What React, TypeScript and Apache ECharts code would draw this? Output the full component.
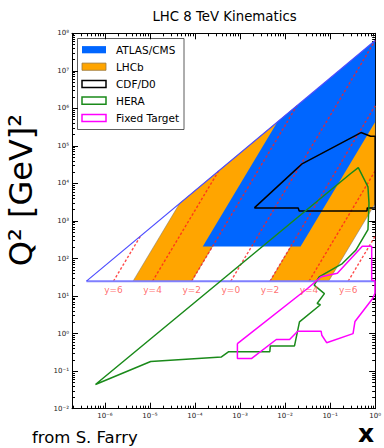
import React, { useEffect, useRef } from 'react';
import * as echarts from 'echarts';

type Pt = [number, number];

// Axis ranges (log10 of x and of Q^2)
const X_LOG_MIN = -6.73;
const X_LOG_MAX = 0;
const Y_LOG_MIN = -2;
const Y_LOG_MAX = 8;

// Tick labels (exponents of 10)
const xTickExponents = [-6, -5, -4, -3, -2, -1, 0];
const yTickExponents = [-2, -1, 0, 1, 2, 3, 4, 5, 6, 7, 8];

// Kinematic limit of the LHC at 8 TeV
const kinematicLimit: Pt[] = [[3.9e-7, 25], [1, 6.4e7]];
const q2Floor: Pt[] = [[3.9e-7, 25], [1, 25]];

// Acceptance regions
const atlasCms: Pt[] = [[1.49e-4, 210], [6.74e-3, 4.31e5], [1, 6.4e7], [1, 4.31e5], [0.0221, 210]];
const lhcbForward: Pt[] = [[4.21e-6, 25], [4.54e-5, 2906], [0.0183, 1.17e6], [8.46e-5, 25]];
const lhcbBackward: Pt[] = [[4.62e-3, 25], [1, 1.17e6], [1, 2903], [0.0928, 25]];

const cdfD0: Pt[] = [
  [2.08e-3, 2230], [0.0183, 2.49e4], [0.0244, 3.39e4], [0.485, 2.27e5], [0.794, 1.81e5],
  [1, 1.8e5], [1, 2230], [0.668, 2230], [0.66, 1855], [0.0206, 1855], [0.0196, 2230], [2.08e-3, 2230],
];

const hera: Pt[] = [
  [6.17e-7, 0.0441], [0.287, 1.84e4], [0.423, 2.65e4], [0.693, 8070], [0.73, 2970], [0.693, 592],
  [0.371, 166], [0.187, 73.6], [0.0571, 32.4], [0.0443, 19.5], [0.0748, 11.6], [0.0515, 6.34],
  [0.061, 5.89], [0.0209, 2.05], [0.0162, 0.47], [4.71e-3, 0.47], [4.59e-3, 0.33], [5.62e-4, 0.33],
  [3.87e-4, 0.239], [1.04e-5, 0.181], [6.17e-7, 0.0441],
];

const fixedTarget: Pt[] = [
  [8.75e-4, 0.544], [0.0315, 15.9], [0.0632, 32.7], [0.145, 40.6], [0.519, 213], [0.838, 213],
  [0.838, 26.4], [0.99, 25.6], [0.99, 11.9], [0.88, 8.6], [0.357, 2.11], [0.323, 1.0],
  [0.0838, 0.573], [0.0655, 0.906], [0.0631, 1.16], [0.0191, 1.16], [0.0126, 0.697],
  [6.39e-3, 0.697], [1.79e-3, 0.217], [8.75e-4, 0.217], [8.75e-4, 0.544],
];

// Rapidity lines
const rapidityLabels = ['y=6', 'y=4', 'y=2', 'y=0', 'y=2', 'y=4', 'y=6'];
const rapidityStart: Pt[] = [[1.55e-6, 25], [1.145e-5, 25], [8.46e-5, 25], [6.25e-4, 25], [4.62e-3, 25], [0.0341, 25], [0.252, 25]];
const rapidityEnd: Pt[] = [[6.14e-6, 393], [3.35e-4, 2.15e4], [0.0183, 1.17e6], [1, 6.4e7], [1, 1.17e6], [1, 2.15e4], [1, 393]];

const legendNames = ['ATLAS/CMS', 'LHCb', 'CDF/D0', 'HERA', 'Fixed Target'];

const FONT = '"DejaVu Sans", "Bitstream Vera Sans", sans-serif';
const BLUE = '#0066ff';
const ORANGE = '#ffa500';
const GREEN = '#1a8a1a';
const MAGENTA = '#ff00ff';

const SUP: Record<string, string> = {
  '-': '⁻', '0': '⁰', '1': '¹', '2': '²', '3': '³', '4': '⁴', '5': '⁵', '6': '⁶', '7': '⁷', '8': '⁸', '9': '⁹',
};
const pow10Label = (v: number) =>
  '10' + String(Math.round(v)).split('').map((c) => SUP[c] ?? c).join('');

const toLog = (p: Pt): [number, number] => [Math.log10(p[0]), Math.log10(p[1])];

function minorTicks(lo: number, hi: number): number[] {
  const out: number[] = [];
  for (let n = Math.floor(lo); n < Math.ceil(hi); n++) {
    for (let k = 2; k <= 9; k++) {
      const v = n + Math.log10(k);
      if (v >= lo && v <= hi) out.push(v);
    }
  }
  return out;
}

function makeAxis(pos: string, min: number, max: number, ticks: number[], len: number, showLine: boolean, labels?: number[], margin = 4) {
  return {
    type: 'value',
    position: pos,
    min,
    max,
    axisLine: { show: showLine, onZero: false, lineStyle: { color: '#000', width: 1 } },
    axisTick: { show: true, inside: true, length: len, customValues: ticks, lineStyle: { color: '#000', width: 1 } },
    axisLabel: labels
      ? {
          show: true,
          customValues: labels,
          formatter: (v: number) => pow10Label(v),
          color: '#222',
          fontSize: 7,
          fontFamily: FONT,
          margin,
        }
      : { show: false },
    splitLine: { show: false },
    minorTick: { show: false },
  };
}

function polySeries(pts: Pt[], color: string, z: number, stroke?: string) {
  return {
    type: 'custom',
    z,
    silent: true,
    clip: true,
    data: pts.map(toLog),
    renderItem: (params: any, api: any) => {
      if (params.dataIndex !== 0) return null;
      return {
        type: 'polygon',
        shape: { points: pts.map((p) => api.coord(toLog(p))) },
        style: { fill: color, stroke: stroke ?? 'none', lineWidth: stroke ? 0.8 : 0 },
      };
    },
  };
}

function lineSeries(pts: Pt[], color: string, z: number, width = 1.5, type: any = 'solid') {
  return {
    type: 'line',
    z,
    silent: true,
    symbol: 'none',
    data: pts.map(toLog),
    lineStyle: { color, width, type },
  };
}

export default function App() {
  const ref = useRef<HTMLDivElement>(null);

  useEffect(() => {
    if (!ref.current) return;
    const chart = echarts.init(ref.current, null, { renderer: 'svg' });

    const xMinor = minorTicks(X_LOG_MIN, X_LOG_MAX);
    const yMinor = minorTicks(Y_LOG_MIN, Y_LOG_MAX);

    const rapiditySeries = rapidityStart.map((s, i) =>
      lineSeries([s, rapidityEnd[i]], 'rgba(255,30,30,0.8)', 5, 1.4, [2.5, 2])
    );

    const legendRowsY = [49.7, 66.7, 84, 100.7, 118];
    const swatchStyles = [
      { fill: BLUE, stroke: 'none', lineWidth: 0 },
      { fill: ORANGE, stroke: '#9a7a40', lineWidth: 0.8 },
      { fill: '#fff', stroke: '#000', lineWidth: 1.5 },
      { fill: '#fff', stroke: GREEN, lineWidth: 1.5 },
      { fill: '#fff', stroke: MAGENTA, lineWidth: 1.5 },
    ];

    const legendChildren: any[] = [
      {
        type: 'rect',
        shape: { x: 77.5, y: 38.5, width: 106.5, height: 91 },
        style: { fill: '#fff', stroke: '#333', lineWidth: 0.8 },
      },
    ];
    legendNames.forEach((name, i) => {
      const cy = legendRowsY[i];
      legendChildren.push({
        type: 'rect',
        shape: { x: 82, y: cy - 3.6, width: 24, height: 7.2 },
        style: swatchStyles[i],
      });
      legendChildren.push({
        type: 'text',
        x: 116,
        y: cy,
        style: { text: name, fill: '#000', fontSize: 10.5, fontFamily: FONT, align: 'left', verticalAlign: 'middle' },
      });
    });

    const option: any = {
      animation: false,
      backgroundColor: '#fff',
      grid: { left: 72, top: 33.3, width: 304.7, height: 375.4, containLabel: false },
      xAxis: [
        makeAxis('bottom', X_LOG_MIN, X_LOG_MAX, xTickExponents, 6, true, xTickExponents, 4),
        makeAxis('bottom', X_LOG_MIN, X_LOG_MAX, xMinor, 3, false),
        makeAxis('top', X_LOG_MIN, X_LOG_MAX, xTickExponents, 6, true),
        makeAxis('top', X_LOG_MIN, X_LOG_MAX, xMinor, 3, false),
      ],
      yAxis: [
        makeAxis('left', Y_LOG_MIN, Y_LOG_MAX, yTickExponents, 6, true, yTickExponents, 3),
        makeAxis('left', Y_LOG_MIN, Y_LOG_MAX, yMinor, 3, false),
        makeAxis('right', Y_LOG_MIN, Y_LOG_MAX, yTickExponents, 6, true),
        makeAxis('right', Y_LOG_MIN, Y_LOG_MAX, yMinor, 3, false),
      ],
      series: [
        polySeries(lhcbForward, ORANGE, 1, 'rgba(110,110,110,0.6)'),
        polySeries(lhcbBackward, ORANGE, 1, 'rgba(110,110,110,0.6)'),
        polySeries(atlasCms, BLUE, 2),
        ...rapiditySeries,
        lineSeries(q2Floor, '#7f7fff', 6, 2),
        lineSeries(kinematicLimit, '#4b4bff', 6, 1.2),
        lineSeries(cdfD0, '#000', 7, 1.5),
        lineSeries(hera, GREEN, 7, 1.5),
        lineSeries(fixedTarget, MAGENTA, 7, 1.5),
        {
          type: 'scatter',
          z: 8,
          silent: true,
          symbol: 'circle',
          symbolSize: 1,
          itemStyle: { color: 'rgba(0,0,0,0)' },
          data: rapidityStart.map(toLog),
          label: {
            show: true,
            position: 'bottom',
            distance: 3.5,
            formatter: (p: any) => rapidityLabels[p.dataIndex],
            color: '#ff4a4a',
            fontSize: 9,
            fontFamily: FONT,
          },
        },
      ],
      graphic: [
        {
          type: 'text',
          z: 100,
          x: 224.5,
          y: 16,
          style: { text: 'LHC 8 TeV Kinematics', fill: '#000', fontSize: 13.3, fontFamily: FONT, align: 'center', verticalAlign: 'middle' },
        },
        {
          type: 'text',
          z: 100,
          x: 21,
          y: 190,
          rotation: Math.PI / 2,
          style: { text: 'Q² [GeV]²', fill: '#000', fontSize: 32, fontFamily: FONT, align: 'center', verticalAlign: 'middle' },
        },
        {
          type: 'text',
          z: 100,
          x: 32,
          y: 437,
          style: { text: 'from S. Farry', fill: '#000', fontSize: 16.5, fontFamily: FONT, align: 'left', verticalAlign: 'middle' },
        },
        {
          type: 'text',
          z: 100,
          x: 366,
          y: 433,
          style: { text: 'x', fill: '#000', fontSize: 25, fontWeight: 'bold', fontFamily: FONT, align: 'center', verticalAlign: 'middle' },
        },
        { type: 'group', z: 100, children: legendChildren },
      ],
    };

    chart.setOption(option);
    return () => chart.dispose();
  }, []);

  return <div ref={ref} style={{ position: 'fixed', left: 0, top: 0, width: 384, height: 448 }} />;
}
